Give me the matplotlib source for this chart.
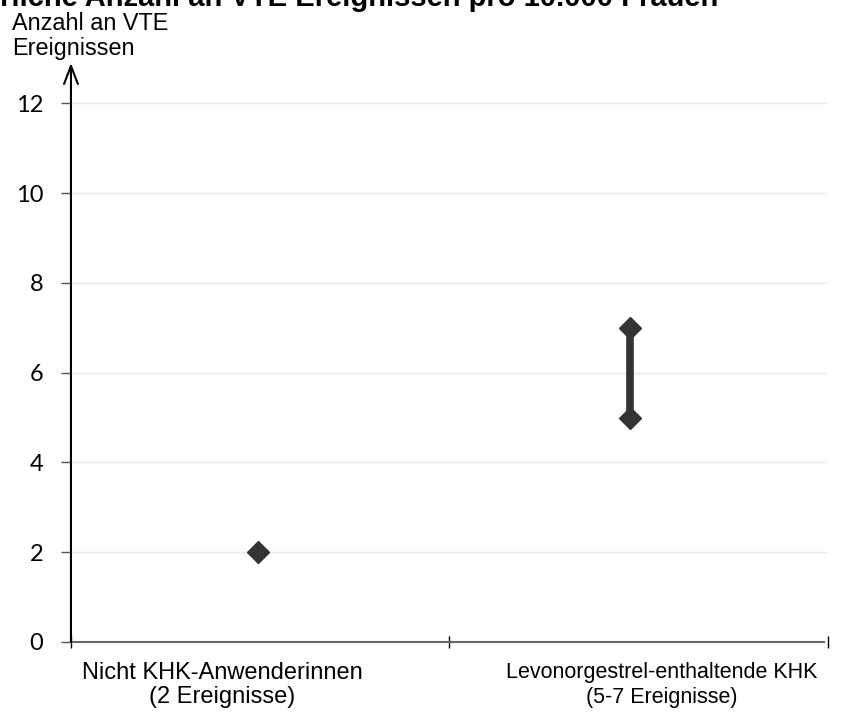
import matplotlib.pyplot as plt
import matplotlib.transforms as mtransforms

# Daten
gruppen = ["Nicht KHK-Anwenderinnen\n(2 Ereignisse)",
           "Levonorgestrel-enthaltende KHK\n(5-7 Ereignisse)"]
unten = [2, 5]
oben = [2, 7]
y_ticks = [0, 2, 4, 6, 8, 10, 12]

fig = plt.figure(figsize=(8.51, 7.13), dpi=100)
ax = fig.add_axes([0.0834, 0.0996, 0.8896, 0.812])

ax.set_xlim(-0.5, 1.5)
ax.set_ylim(0, 12.9)

# Gitterlinien
for t in y_ticks[1:]:
    ax.plot([-0.5, 1.495], [t, t], color="#e8e8e8", lw=1, zorder=0)

# Bereich / Punkte
x_off = [-0.006, -0.024]
for i in range(len(gruppen)):
    x = i + x_off[i]
    if oben[i] > unten[i]:
        ax.plot([x, x], [unten[i], oben[i]], color="#333333",
                lw=5.5, solid_capstyle="butt", zorder=2)
        ax.plot([x, x], [unten[i], oben[i]], "D", color="#333333",
                ms=11.5, zorder=3)
    else:
        ax.plot([x], [unten[i]], "D", color="#333333", ms=11.5, zorder=3)

# Achsen
for s in ["top", "right", "left"]:
    ax.spines[s].set_visible(False)
ax.spines["bottom"].set_color("#666666")
ax.spines["bottom"].set_linewidth(1.5)
ax.spines["bottom"].set_bounds(-0.5, 1.49)

ax.annotate("", xy=(0, 1.0), xytext=(0, 0), xycoords="axes fraction",
            arrowprops=dict(arrowstyle="->,head_length=1.3,head_width=0.5",
                            color="black", lw=1.5, shrinkA=0, shrinkB=0))

ax.set_yticks(y_ticks)
ax.set_yticklabels([str(t) for t in y_ticks], fontsize=17, family=["Lato", "DejaVu Sans"])
ax.tick_params(axis="y", length=7, width=1, color="#555555", pad=13)

ax.set_xticks([-0.5, 0.5, 1.5])
ax.set_xticklabels([])
ax.tick_params(axis="x", length=9, width=1, color="black", direction="inout")

trans = mtransforms.blended_transform_factory(ax.transData, fig.transFigure)
lab_x = [-0.1, 1.061]
for i in range(len(gruppen)):
    ax.text(lab_x[i], 1 - 685 / 713, gruppen[i], transform=trans, ha="center", va="center",
            fontsize=17 if i == 0 else 15.5, linespacing=1.15 if i == 0 else 1.25,
            family=["Liberation Sans Narrow", "Liberation Sans", "DejaVu Sans"])

# Achsentitel und Titel
fig.text(12 / 851, 1 - 30 / 713, "Anzahl an VTE", ha="left", va="baseline",
         fontsize=16.8, family=["Liberation Sans", "DejaVu Sans"])
fig.text(12 / 851, 1 - 55 / 713, "Ereignissen", ha="left", va="baseline",
         fontsize=16.8, family=["Liberation Sans", "DejaVu Sans"])
fig.text(718 / 851, 1 - 6 / 713, "Jährliche Anzahl an VTE Ereignissen pro 10.000 Frauen",
         ha="right", va="baseline", fontsize=21, fontweight="bold",
         family=["Liberation Sans", "DejaVu Sans"])

fig.savefig("out.png", dpi=100)
